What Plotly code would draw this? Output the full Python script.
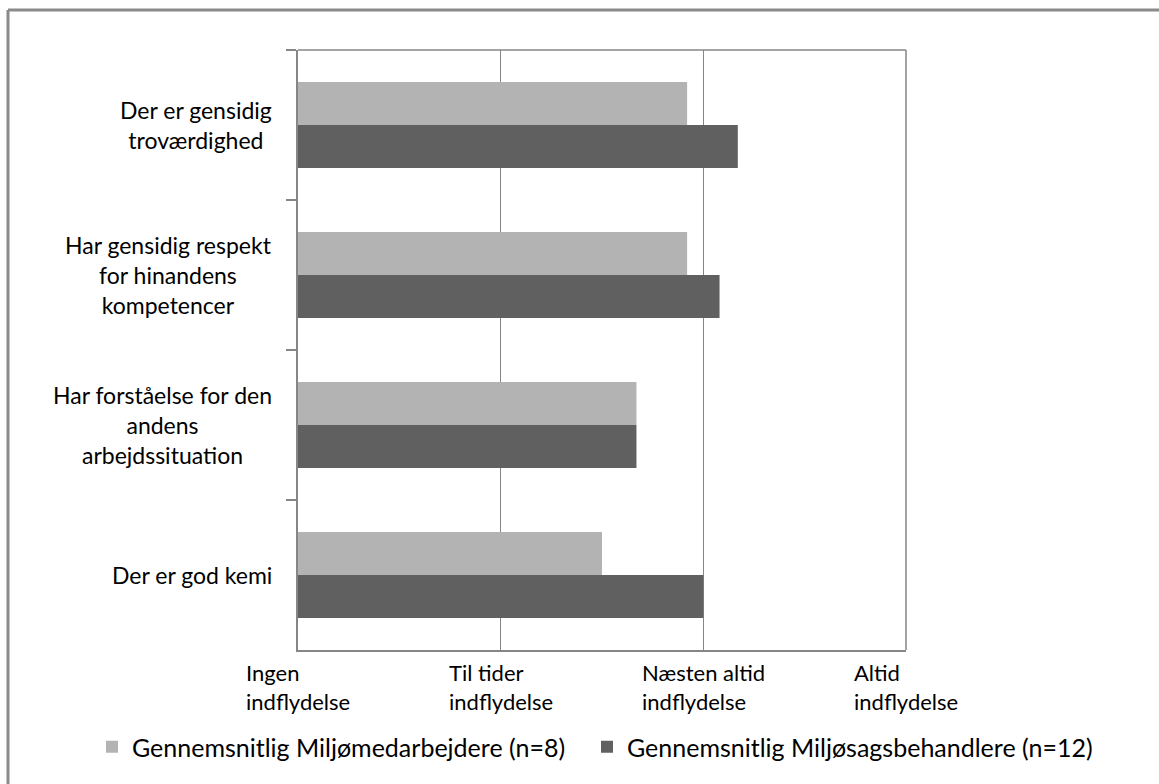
import plotly.graph_objects as go

# Statements (top to bottom) and the average answer per group on a 1-4 scale
categories = [
    "Der er gensidig<br>troværdighed",
    "Har gensidig respekt<br>for hinandens<br>kompetencer",
    "Har forståelse for den<br>andens<br>arbejdssituation",
    "Der er god kemi",
]
medarbejdere = [2.92, 2.92, 2.67, 2.5]
sagsbehandlere = [3.17, 3.08, 2.67, 3.0]
series_names = [
    "Gennemsnitlig Miljømedarbejdere (n=8)",
    "Gennemsnitlig Miljøsagsbehandlere (n=12)",
]
scale_values = [1, 2, 3, 4]
scale_labels = [
    "Ingen<br>indflydelse",
    "Til tider<br>indflydelse",
    "Næsten altid<br>indflydelse",
    "Altid<br>indflydelse",
]

FONT = "Lato"
AXIS_GREY = "#868686"
W, H = 1159, 784
ML, MR, MT, MB = 298, 253, 50, 134
PW, PH = W - ML - MR, H - MT - MB


def px_x(px):
    return (px - ML) / PW


def px_y(py):
    return (H - MB - py) / PH


fig = go.Figure()
fig.add_trace(go.Bar(
    y=categories, x=medarbejdere, base=0, orientation="h",
    name=series_names[0], marker=dict(color="#b3b3b3", line_width=0),
    legend="legend",
))
fig.add_trace(go.Bar(
    y=categories, x=sagsbehandlere, base=0, orientation="h",
    name=series_names[1], marker=dict(color="#606060", line_width=0),
    legend="legend2",
))

annotations = []
# category labels, centred lines, right-aligned block
for c in categories:
    annotations.append(dict(
        x=0, xref="paper", y=c, yref="y", xanchor="right", yanchor="middle",
        xshift=-24, text=c, showarrow=False, align="center",
        font=dict(family=FONT, size=23, color="#000000"),
    ))
# value-scale labels below the plot
for v, t in zip(scale_values, scale_labels):
    annotations.append(dict(
        x=v, xref="x", y=0, yref="paper", xanchor="center", yanchor="top",
        yshift=-7, text=t, showarrow=False, align="left",
        font=dict(family=FONT, size=22, color="#000000"),
    ))

shapes = [
    # thin border on top and right of plot area
    dict(type="line", xref="paper", yref="paper", x0=0, x1=1, y0=1, y1=1,
         line=dict(color=AXIS_GREY, width=1.5)),
    dict(type="line", xref="paper", yref="paper", x0=1, x1=1, y0=0, y1=1,
         line=dict(color=AXIS_GREY, width=1.5)),
    # outer chart frame (top and left edges)
    dict(type="line", xref="paper", yref="paper", x0=px_x(8), x1=px_x(W + 5),
         y0=px_y(10), y1=px_y(10), line=dict(color="#8a8a8a", width=3)),
    dict(type="line", xref="paper", yref="paper", x0=px_x(8), x1=px_x(8),
         y0=px_y(10), y1=px_y(H + 5), line=dict(color="#8a8a8a", width=3)),
]

legend_style = dict(
    orientation="h", xanchor="left", yanchor="top",
    font=dict(family=FONT, size=25, color="#000000"),
    itemwidth=30, tracegroupgap=0, bgcolor="rgba(0,0,0,0)",
)

fig.update_layout(
    width=W, height=H,
    margin=dict(l=ML, r=MR, t=MT, b=MB, pad=0),
    paper_bgcolor="white", plot_bgcolor="white",
    barmode="group", bargap=0.427, bargroupgap=0,
    font=dict(family=FONT, size=20, color="#000000"),
    showlegend=True,
    legend=dict(x=px_x(92), y=px_y(724), **legend_style),
    legend2=dict(x=px_x(587), y=px_y(724), **legend_style),
    xaxis=dict(
        range=[1, 4], tickvals=scale_values, showticklabels=False,
        showgrid=True, gridcolor=AXIS_GREY, gridwidth=1,
        showline=True, linecolor=AXIS_GREY, linewidth=2,
        ticks="", zeroline=False, fixedrange=True,
    ),
    yaxis=dict(
        autorange="reversed", showticklabels=False, showgrid=False,
        showline=True, linecolor=AXIS_GREY, linewidth=2,
        ticks="outside", tickson="boundaries", ticklen=10,
        tickcolor=AXIS_GREY, tickwidth=2, zeroline=False, fixedrange=True,
    ),
    annotations=annotations,
    shapes=shapes,
)

fig.write_html("out.html")
